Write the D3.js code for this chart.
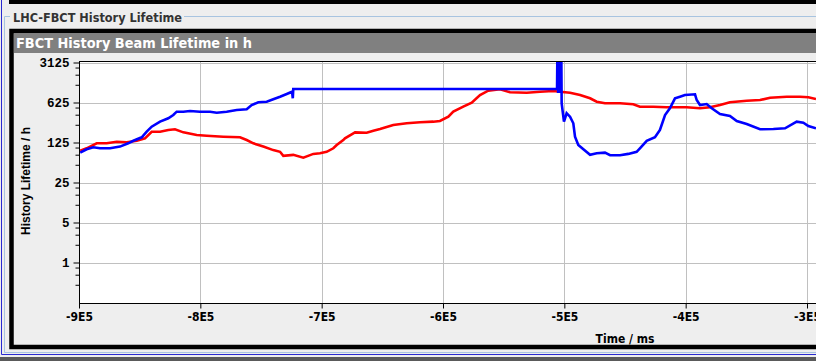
<!DOCTYPE html>
<html><head><meta charset="utf-8">
<script src="https://cdn.jsdelivr.net/npm/d3@7/dist/d3.min.js"></script>
<style>
html,body{margin:0;padding:0;background:#eeeeee;overflow:hidden;}
svg{display:block;}
</style></head>
<body>
<script>
// ---- data (time in ms, lifetime in h) ----
const blueTime = [-899000,-893700,-888200,-882700,-874400,-866200,-859400,-855200,-848300,-844200,-840100,-833200,-826400,-822300,-819500,-814000,-808500,-800300,-792000,-786500,-778300,-770000,-761800,-757700,-752200,-745300,-739900,-734300,-728800,-724400,-723800,-723400,
 -506000,-505600,-505100,-504600,-504100,-503600,-503100,-502600,
 -502200,-500300,-498100,-495300,-492600,-491200,-488500,-484300,-478800,-473300,-466500,-462300,-454100,-447300,-440400,-437700,-432100,-425300,-421200,-417000,-413000,-408800,-404700,-400600,-392300,-390900,-388200,-382700,-378500,-371700,-363500,-357900,-349700,-338700,-327700,-318100,-308500,-303000,-298900,-292600];
const blueLife = [83,95,103,99,99,106,121,134,154,193,236,289,331,378,432,432,444,432,432,415,432,462,475,565,630,645,711,789,880,965,740,1076,
 1076,9000,920,9000,920,9000,920,9000,
 605,289,405,353,271,158,113,95,76,81,83,75,75,79,86,99,134,154,207,378,495,740,789,845,869,691,565,588,495,394,363,297,263,213,215,221,289,277,243,221];
const redTime = [-899000,-893700,-885400,-877200,-868900,-860700,-852400,-845600,-840100,-833200,-826400,-820900,-814000,-803000,-794700,-781100,-767300,-761800,-756300,-748100,-739900,-734300,-731600,-723400,-715100,-706900,-701400,-695900,-690400,-687600,-682200,-680800,-673900,-672500,-662900,-657400,-651900,-641000,-629900,-618900,-608000,-602500,-595600,-591500,-583300,-576300,-569500,-562700,-553000,-544800,-531000,-520000,-509100,-503600,-495300,-487000,-478800,-473300,-466500,-454100,-443200,-437700,-426700,-415600,-399200,-388200,-380000,-371700,-363500,-349700,-338700,-330400,-316700,-305800,-298900,-292600];
const redLife = [90,99,121,121,129,126,134,148,193,193,207,213,188,169,164,158,154,138,121,106,92,86,73,76,68,79,81,86,99,113,138,148,181,188,185,201,215,253,271,282,289,297,353,432,528,620,845,1005,1063,942,927,965,993,965,927,845,740,645,605,605,581,528,528,515,515,495,515,565,630,672,691,758,789,789,770,719];
const xTicks = [-900000,-800000,-700000,-600000,-500000,-400000,-300000];
const yTicks = [1,5,25,125,625,3125];
const yMinor = [0.4,0.6,0.8,2,3,4,10,15,20,50,75,100,250,375,500,1250,1875,2500];
const outerTitle = "LHC-FBCT History Lifetime";
const innerTitle = "FBCT History Beam Lifetime in h";
const xLabel = "Time / ms";
const yLabel = "History Lifetime / h";

const W = 816, H = 361;
const svg = d3.select("body").append("svg").attr("width", W).attr("height", H);

// frame
svg.append("rect").attr("x",0).attr("y",0).attr("width",W).attr("height",H).attr("fill","#eeeeee");
svg.append("rect").attr("x",9).attr("y",0).attr("width",W-9).attr("height",4).attr("fill","#000");
svg.append("rect").attr("x",0).attr("y",357).attr("width",W).attr("height",4).attr("fill","#5a5a5a");
svg.append("path").attr("d","M1.5,0V354.5H816").attr("fill","none").attr("stroke","#2a2ad0").attr("stroke-width",1);
svg.append("path").attr("d","M10,16.5H4.5V352.5H816").attr("fill","none").attr("stroke","#a8c4e0").attr("stroke-width",1);
svg.append("path").attr("d","M184,16.5H816").attr("fill","none").attr("stroke","#a8c4e0").attr("stroke-width",1);
svg.append("text").attr("x",13).attr("y",21.5).text(outerTitle)
  .attr("font-family","DejaVu Sans").attr("font-weight","bold").attr("font-size",11.5)
  .attr("fill","#333333").attr("textLength",169).attr("lengthAdjust","spacingAndGlyphs");
// inner panel black border
svg.append("rect").attr("x",11.5).attr("y",31).attr("width",900).attr("height",316)
  .attr("fill","#eeeeee").attr("stroke","#000").attr("stroke-width",4.5);
svg.append("rect").attr("x",14).attr("y",33).attr("width",W-14).attr("height",20).attr("fill","#808080");
svg.append("text").attr("x",16).attr("y",48).text(innerTitle)
  .attr("font-family","DejaVu Sans").attr("font-weight","bold").attr("font-size",14)
  .attr("fill","#ffffff").attr("textLength",236).attr("lengthAdjust","spacingAndGlyphs");

// plot
const x = d3.scaleLinear().domain([-900000,-300000]).range([79,807]);
const y = d3.scaleLog().base(5).domain([0.2,3125]).range([302.5,62.5]);
const plotL = 79, plotT = 61, plotB = 303, plotR = 840;

svg.append("rect").attr("x",plotL).attr("y",plotT).attr("width",plotR-plotL).attr("height",plotB-plotT).attr("fill","#fff");

const grid = svg.append("g");
grid.selectAll("line.h").data(yTicks).join("line")
  .attr("x1",plotL).attr("x2",plotR).attr("y1",d=>Math.round(y(d))+0.5).attr("y2",d=>Math.round(y(d))+0.5)
  .attr("stroke","#c0c0c0").attr("stroke-width",1);
grid.selectAll("line.v").data(xTicks.slice(1)).join("line")
  .attr("y1",plotT).attr("y2",plotB).attr("x1",d=>Math.round(x(d))+0.5).attr("x2",d=>Math.round(x(d))+0.5)
  .attr("stroke","#c0c0c0").attr("stroke-width",1);

svg.append("defs").append("clipPath").attr("id","clip").append("rect")
  .attr("x",plotL).attr("y",plotT).attr("width",plotR-plotL).attr("height",plotB-plotT);

const line = d3.line().x(d=>x(d[0])).y(d=>y(d[1]));
const red = redTime.map((t,i)=>[t,redLife[i]]);
const blue = blueTime.map((t,i)=>[t,blueLife[i]]);
const g = svg.append("g").attr("clip-path","url(#clip)");
g.append("path").datum(red).attr("d",line).attr("fill","none").attr("stroke","#ff0000").attr("stroke-width",2.6);
g.append("path").datum(blue).attr("d",line).attr("fill","none").attr("stroke","#0000ff").attr("stroke-width",2.6);

// top border
svg.append("line").attr("x1",plotL).attr("x2",plotR).attr("y1",plotT+0.5).attr("y2",plotT+0.5).attr("stroke","#000");

// axes
const yAxisG = svg.append("g").attr("transform",`translate(${plotL+0.5},0)`);
yAxisG.call(d3.axisLeft(y).tickValues(yTicks).tickSize(6).tickFormat(d=>String(d)));
yAxisG.select(".domain").remove();
yAxisG.selectAll(".tick line").attr("stroke","#000");
yAxisG.selectAll(".tick text").attr("font-family","Liberation Mono").attr("font-weight","bold")
  .attr("font-size",12.5).attr("fill","#000").attr("x",-10);
yAxisG.selectAll("line.minor").data(yMinor).join("line").attr("class","minor")
  .attr("x1",-4).attr("x2",0).attr("y1",d=>y(d)).attr("y2",d=>y(d)).attr("stroke","#000");
svg.append("line").attr("x1",plotL+0.5).attr("x2",plotL+0.5).attr("y1",plotT).attr("y2",plotB+1).attr("stroke","#000");

const xAxisG = svg.append("g").attr("transform",`translate(0,${plotB+0.5})`);
xAxisG.call(d3.axisBottom(x).tickValues(xTicks).tickSize(5).tickFormat(d=>(d/100000)+"E5"));
xAxisG.select(".domain").remove();
xAxisG.selectAll(".tick line").attr("stroke","#000");
xAxisG.selectAll(".tick text").attr("font-family","DejaVu Sans Condensed, DejaVu Sans").attr("font-stretch","condensed")
  .attr("font-weight","bold").attr("font-size",12).attr("fill","#000").attr("y",9).attr("dy","0.71em");
svg.append("line").attr("x1",plotL).attr("x2",plotR).attr("y1",plotB+0.5).attr("y2",plotB+0.5).attr("stroke","#000");

svg.append("text").attr("x",625).attr("y",342.5).attr("text-anchor","middle").text(xLabel)
  .attr("font-family","DejaVu Sans Condensed, DejaVu Sans").attr("font-stretch","condensed")
  .attr("font-weight","bold").attr("font-size",12).attr("fill","#000");
svg.append("text").attr("transform","translate(30,181) rotate(-90)").attr("text-anchor","middle").text(yLabel)
  .attr("font-family","Liberation Sans").attr("font-weight","bold").attr("font-size",12).attr("fill","#000");
</script>
</body></html>
